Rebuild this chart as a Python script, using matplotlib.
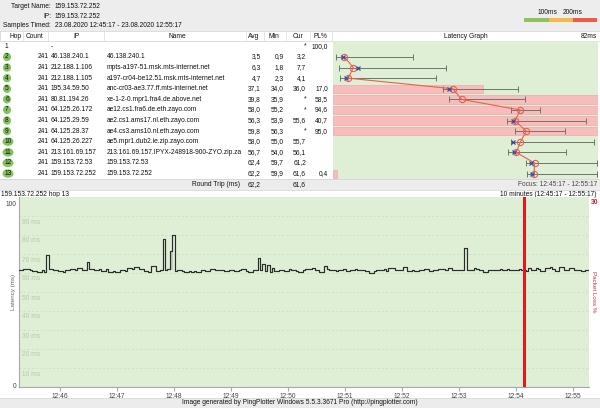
import numpy as np
import matplotlib
matplotlib.use('Agg')
import matplotlib.pyplot as plt
from matplotlib.patches import Rectangle, Ellipse
from matplotlib.transforms import offset_copy, blended_transform_factory

# ---------------- data ----------------
target_name = "159.153.72.252"
target_ip = "159.153.72.252"
samples_timed = "23.08.2020 12:45:17 - 23.08.2020 12:55:17"
focus = "12:45:17 - 12:55:17"
window_label = "10 minutes (12:45:17 - 12:55:17)"
graph_hop_label = "159.153.72.252 hop 13"

hops = list(range(1, 14))
counts = [None, 241, 241, 241, 241, 241, 241, 241, 241, 241, 241, 241, 241]
ips = ['-', '46.138.240.1', '212.188.1.106', '212.188.1.105', '195.34.59.50',
       '80.81.194.26', '64.125.26.172', '64.125.29.59', '64.125.28.37',
       '64.125.26.227', '213.161.69.157', '159.153.72.53', '159.153.72.252']
names = ['', '46.138.240.1', 'mpts-a197-51.msk.mts-internet.net',
         'a197-cr04-be12.51.msk.mts-internet.net', 'anc-cr03-ae3.77.ff.mts-internet.net',
         'xe-1-2-0.mpr1.fra4.de.above.net', 'ae12.cs1.fra6.de.eth.zayo.com',
         'ae2.cs1.ams17.nl.eth.zayo.com', 'ae4.cs3.ams10.nl.eth.zayo.com',
         'ae5.mpr1.dub2.ie.zip.zayo.com', '213.161.69.157.IPYX-248918-900-ZYO.zip.za',
         '159.153.72.53', '159.153.72.252']
nan = np.nan
avg_ms = [nan, 3.5, 6.3, 4.7, 37.1, 39.8, 58.0, 56.3, 59.8, 58.0, 56.7, 62.4, 62.2]
min_ms = [nan, 0.9, 1.8, 2.3, 34.0, 35.9, 55.2, 53.9, 56.3, 55.0, 54.0, 59.7, 59.9]
max_ms = [nan, 24.9, 34.9, 31.9, 57.1, 59.4, 64.1, 78.3, 71.9, 80.9, 72.1, 81.8, 81.8]
cur_ms = [nan, 3.2, 7.7, 4.1, 36.0, nan, nan, 55.6, nan, 55.7, 56.1, 61.2, 61.6]
pl_pct = [100.0, nan, nan, nan, 17.0, 58.5, 94.6, 40.7, 95.0, nan, nan, nan, 0.4]
graph_max_ms = 82
loss_scale_pct = 30

start_time = "12:45:17"
sample_interval_s = 2.5
latency = [
    61.5, 61.5, 62.0, 62.0, 62.3, 61.8, 61.2, 61.2, 60.4, 60.4,
    61.5, 60.3, 69.5, 62.2, 62.2, 61.6, 61.6, 61.0, 61.3, 60.5,
    61.6, 61.6, 62.0, 62.0, 61.8, 62.4, 62.4, 61.5, 61.5, 65.6,
    61.9, 61.9, 61.4, 61.4, 62.1, 61.0, 61.0, 62.0, 60.6, 60.6,
    61.3, 60.5, 60.5, 61.8, 61.8, 61.0, 62.6, 62.6, 62.2, 63.3,
    63.0, 62.2, 62.2, 61.0, 61.0, 60.5, 63.6, 63.6, 61.0, 61.0,
    61.5, 77.9, 61.8, 62.0, 71.6, 80.0, 61.2, 61.6, 61.6, 61.0,
    60.5, 60.5, 61.2, 60.3, 61.3, 60.3, 60.3, 61.8, 61.8, 61.1,
    61.1, 62.0, 62.0, 61.4, 61.4, 61.4, 61.4, 61.0, 61.0, 61.6,
    61.6, 60.9, 60.9, 61.5, 62.2, 62.2, 61.0, 60.5, 60.5, 61.6,
    61.6, 68.0, 61.5, 64.7, 61.2, 64.0, 60.3, 62.8, 61.0, 61.3,
    61.8, 61.8, 61.2, 61.2, 62.0, 61.6, 61.6, 61.0, 60.6, 60.6,
    61.5, 62.2, 62.2, 61.9, 62.4, 61.6, 61.6, 60.7, 60.7, 63.6,
    62.0, 61.4, 61.8, 61.8, 61.2, 61.6, 61.6, 62.1, 60.8, 60.8,
    61.8, 61.8, 62.3, 61.6, 61.6, 61.6, 61.0, 61.0, 60.2, 60.2,
    61.2, 61.4, 61.8, 61.8, 62.0, 61.2, 62.8, 62.8, 62.8, 61.5,
    61.5, 61.5, 63.3, 63.3, 61.0, 61.0, 61.8, 61.3, 61.3, 61.6,
    61.6, 62.1, 62.1, 61.2, 61.2, 61.6, 61.6, 61.9, 61.9, 62.2,
    61.4, 62.6, 62.6, 61.8, 61.8, 61.4, 61.8, 61.8, 73.0, 61.8,
    61.8, 61.8, 62.8, 62.2, 61.6, 61.6, 60.4, 60.4, 61.6, 61.6,
    61.8, 61.8, 61.8, 62.1, 61.6, 61.6, 62.3, 61.8, 61.8, 61.8,
    61.8, 62.0, 61.4, 61.4, 61.0, 62.4, 61.6, 61.6, 62.6, 62.0,
    61.0, 61.0, 62.8, 62.8, 63.4, 62.2, 61.3, 61.3, 62.9, 62.9,
    61.5, 61.5, 62.5, 62.5, 61.6, 61.6, 61.6, 61.2, 61.2, 61.5, 61.5,
]
loss_times = ["12:54:09"]
loss_values = [100]
time_ticks = ['12:46', '12:47', '12:48', '12:49', '12:50', '12:51', '12:52', '12:53', '12:54', '12:55']
ms_ticks = [10, 20, 30, 40, 50, 60, 70, 80, 90]
footer = "Image generated by PingPlotter Windows 5.5.3.3671 Pro (http://pingplotter.com)"

# ---------------- helpers ----------------
def secs(s):
    p = [int(v) for v in s.split(':')]
    while len(p) < 3:
        p.append(0)
    return p[0] * 3600 + p[1] * 60 + p[2]

t0 = secs(start_time)

def fmt(v):
    return f"{v:.1f}".replace('.', ',')

plt.rcParams['font.family'] = ['Liberation Sans', 'DejaVu Sans']
FS = 4.75
TXT = '#111111'
GREEN_BG = '#dfefd6'

fig = plt.figure(figsize=(6, 4.08), dpi=100)
fig.patch.set_facecolor('white')

bg = fig.add_axes([0, 0, 1, 1])
bg.set_xlim(0, 600)
bg.set_ylim(408, 0)
bg.axis('off')

def T(x, y, s, ha='left', color=TXT, fs=FS, **kw):
    bg.text(x, y, s, ha=ha, va='center', fontsize=fs, color=color, **kw)

# header band
bg.add_patch(Rectangle((0, 0), 600, 31, color='#ededed', lw=0))
T(51, 6, 'Target Name:', ha='right')
T(51, 16, 'IP:', ha='right')
T(51, 25.5, 'Samples Timed:', ha='right')
T(55, 6, target_name)
T(55, 16, target_ip)
T(55, 25.5, samples_timed)

# latency colour legend
bg.add_patch(Rectangle((524, 18), 25, 4, color='#8cc35c', lw=0))
bg.add_patch(Rectangle((549, 18), 24, 4, color='#f6b946', lw=0))
bg.add_patch(Rectangle((573, 18), 24, 4, color='#ec5b45', lw=0))
T(547, 12, '100ms', ha='center')
T(573, 12, '200ms', ha='center')

# table header
bg.add_patch(Rectangle((0, 31), 600, 9.5, fc='white', ec='#d0d0d0', lw=0.5))
for xs in [23, 48, 104, 246, 264, 286, 310, 332]:
    bg.plot([xs, xs], [31.5, 40], color='#d8d8d8', lw=0.5)
T(16, 36, 'Hop', ha='center')
T(35, 36, 'Count', ha='center')
T(76, 36, 'IP', ha='center')
T(177, 36, 'Name', ha='center')
T(254, 36, 'Avg', ha='center')
T(274, 36, 'Min', ha='center')
T(298, 36, 'Cur', ha='center')
T(320, 36, 'PL%', ha='center')
T(466, 36, 'Latency Graph', ha='center')
T(597, 36, f'{graph_max_ms}ms', ha='right')

# table rows
row0, rowh = 41.0, 10.6
for i, h in enumerate(hops):
    yc = row0 + (i + 0.5) * rowh
    if counts[i] is None:
        T(6, yc, str(h), ha='center')
    else:
        w = 8 if h < 10 else 11
        bg.add_patch(Ellipse((7 if h < 10 else 8, yc), w, 8.4, color='#80c35f', lw=0))
        T(7 if h < 10 else 8, yc, str(h), ha='center')
        T(49, yc, str(counts[i]), ha='right')
    T(51, yc, ips[i])
    T(107, yc, names[i])
    if not np.isnan(avg_ms[i]):
        T(261, yc, fmt(avg_ms[i]), ha='right')
        T(284, yc, fmt(min_ms[i]), ha='right')
    T(306, yc, '*' if np.isnan(cur_ms[i]) else fmt(cur_ms[i]), ha='right')
    if not np.isnan(pl_pct[i]):
        T(328, yc, fmt(pl_pct[i]), ha='right')

# round trip row
bg.add_patch(Rectangle((0, 179), 600, 10.5, color='#ececec', lw=0))
bg.plot([0, 600], [179.2, 179.2], color='#d0d0d0', lw=0.5)
bg.plot([0, 600], [189.5, 189.5], color='#d0d0d0', lw=0.5)
T(240, 184.3, 'Round Trip (ms)', ha='right')
T(261, 184.3, fmt(avg_ms[-1]), ha='right')
T(306, 184.3, fmt(cur_ms[-1]), ha='right')
T(597, 184.3, 'Focus: ' + focus, ha='right', color='#444')

# footer
bg.add_patch(Rectangle((0, 397.5), 600, 11, color='#ececec', lw=0))
bg.plot([0, 600], [397.5, 397.5], color='#d6d6d6', lw=0.5)
T(300, 403, footer, ha='center')

# bottom chart labels
T(1, 195, graph_hop_label)
T(597, 195, window_label, ha='right')
T(14, 292, 'Latency (ms)', ha='center', color='#666', rotation=90, fs=4.5)
T(593, 292, 'Packet Loss %', ha='center', color='#d03040', rotation=270, fs=4.5)

# ---------------- latency graph (table) ----------------
rect = [333 / 600, 1 - 179 / 408, 265 / 600, 138 / 408]
lg = fig.add_axes(rect)
lg.set_facecolor(GREEN_BG)
lg.set_xlim(0, loss_scale_pct)
lg.set_ylim(len(hops), 0)
lg.set_xticks([]); lg.set_yticks([])
for s in lg.spines.values():
    s.set_visible(False)
yrows = np.arange(len(hops)) + 0.5
for i in range(len(hops)):
    if ips[i] != '-' and not np.isnan(pl_pct[i]):
        lg.barh(yrows[i], pl_pct[i], height=0.78, left=0, color='#f8bcbc',
                edgecolor='#eaa2a2', lw=0.4)

lm = fig.add_axes(rect)
lm.patch.set_alpha(0)
lm.set_xlim(0, graph_max_ms)
lm.set_ylim(len(hops), 0)
lm.axis('off')
a = np.array(avg_ms); mn = np.array(min_ms); mx = np.array(max_ms); cu = np.array(cur_ms)
ok = ~np.isnan(a)
lm.hlines(yrows[ok], mn[ok], mx[ok], color='#6c776c', lw=0.7)
lm.plot(mn[ok], yrows[ok], '|', color='#6c776c', ms=4, mew=0.7)
lm.plot(mx[ok], yrows[ok], '|', color='#6c776c', ms=4, mew=0.7)
lm.plot(a[ok], yrows[ok], color='#e8604f', lw=0.8, marker='o', mfc='none',
        mec='#e8604f', ms=4.5, mew=0.8)
lm.plot(cu, yrows, 'x', color='#3c4aa8', ms=3.5, mew=0.9, ls='none')

# ---------------- bottom time chart ----------------
bc = fig.add_axes([19 / 600, 1 - 387 / 408, 570 / 600, 190 / 408])
bc.set_facecolor(GREEN_BG)
total_s = (len(latency) - 1) * sample_interval_s
bc.set_xlim(0, total_s)
bc.set_ylim(0, 100)
for v in ms_ticks:
    bc.axhline(v, color='#c9dcbf', lw=0.5, ls=(0, (3, 3)), zorder=1)
ts = np.arange(len(latency)) * sample_interval_s
lat = np.array(latency)
base = np.median(lat)
bc.fill_between(ts, base, lat, where=lat > base + 3, step='mid', color='#c4ccc2', lw=0, zorder=2)
bc.step(ts, latency, where='mid', color='#2b2b2b', lw=0.85, zorder=3)
for side in ['top', 'right']:
    bc.spines[side].set_visible(False)
for side in ['left', 'bottom']:
    bc.spines[side].set_color('#a8a8a8')
    bc.spines[side].set_linewidth(0.8)
bc.set_yticks([])
bc.set_xticks([secs(t) - t0 for t in time_ticks])
bc.set_xticklabels(time_ticks)
bc.tick_params(axis='x', length=3, color='#a8a8a8', labelsize=FS, labelcolor='#444', pad=1.5)

tr_ms = offset_copy(bc.transData, fig=fig, x=0, y=-6, units='dots')
for v in ms_ticks:
    bc.text(3, v, f'{v} ms', transform=tr_ms, fontsize=FS, color='#b6c8ae', va='center', ha='left', zorder=2)
bl_tr = blended_transform_factory(bc.transAxes, bc.transData)
bc.text(-0.005, 100, '100', transform=offset_copy(bl_tr, fig=fig, x=0, y=-7, units='dots'),
        fontsize=FS, color='#444', ha='right', va='center')
bc.text(-0.005, 0, '0', transform=offset_copy(bl_tr, fig=fig, x=0, y=1, units='dots'),
        fontsize=FS, color='#444', ha='right', va='center')

bl = bc.twinx()
bl.set_ylim(0, loss_scale_pct)
bl.bar([secs(t) - t0 for t in loss_times], loss_values, width=3.0, color='#e8161b', zorder=5)
bl.set_yticks([])
for s in bl.spines.values():
    s.set_visible(False)
bc.text(1.004, 1.0, str(loss_scale_pct), transform=offset_copy(bc.transAxes, fig=fig, x=0, y=-6, units='dots'),
        fontsize=FS, color='#d02030', fontweight='bold', ha='left', va='center')

fig.savefig('out.png', dpi=100)
